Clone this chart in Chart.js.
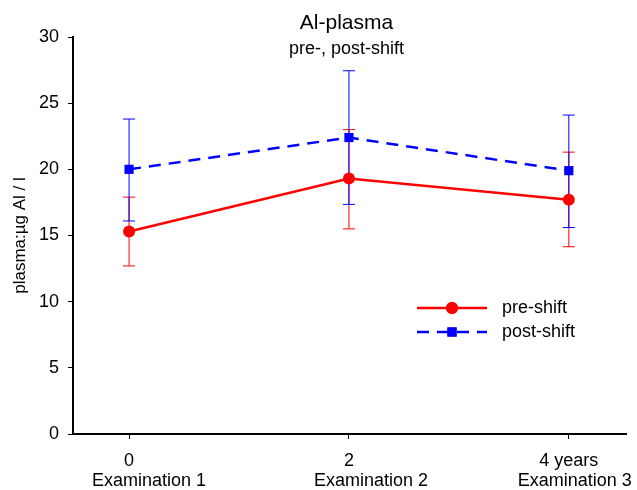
<!DOCTYPE html>
<html>
<head>
<meta charset="utf-8">
<script src="https://cdn.jsdelivr.net/npm/chart.js@4/dist/chart.umd.min.js"></script>
<style>
  html, body { margin: 0; padding: 0; background: #fff; }
  #wrap { width: 637px; height: 490px; }
</style>
</head>
<body>
<div id="wrap"><canvas id="chart" width="637" height="490"></canvas></div>
<script>
// x positions (years) and their tick labels
const years = [0, 2, 4];
const yearLabels = ['0', '2', '4 years'];
const examLabels = ['Examination 1', 'Examination 2', 'Examination 3'];

// pre-shift means and error bar ends
const preMean = [15.3, 19.3, 17.7];
const preLow = [12.7, 15.5, 14.15];
const preHigh = [17.9, 23.0, 21.3];

// post-shift means and error bar ends
const postMean = [20.0, 22.4, 19.9];
const postLow = [16.1, 17.35, 15.6];
const postHigh = [23.8, 27.45, 24.1];

const font = 'Liberation Sans, Arial, Helvetica, sans-serif';

const errorBars = {
    id: 'errorBars',
    beforeDatasetsDraw(chart) {
        const ctx = chart.ctx;
        const xs = chart.scales.x, ys = chart.scales.y;
        const sets = [
            { low: preLow, high: preHigh, color: '#ff0000' },
            { low: postLow, high: postHigh, color: '#0000ff' }
        ];
        ctx.save();
        ctx.lineWidth = 1;
        sets.forEach(s => {
            ctx.strokeStyle = s.color;
            years.forEach((yr, i) => {
                const x = xs.getPixelForValue(yr);
                const y1 = ys.getPixelForValue(s.low[i]);
                const y2 = ys.getPixelForValue(s.high[i]);
                ctx.beginPath();
                ctx.moveTo(x, y1); ctx.lineTo(x, y2);
                ctx.moveTo(x - 6, y1); ctx.lineTo(x + 6, y1);
                ctx.moveTo(x - 6, y2); ctx.lineTo(x + 6, y2);
                ctx.stroke();
            });
        });
        ctx.restore();
    }
};

// second line of the x labels, set a little right of each tick as in the source
const examLine = {
    id: 'examLine',
    afterDraw(chart) {
        const ctx = chart.ctx;
        const xs = chart.scales.x;
        const shift = [20, 22, 6];
        ctx.save();
        ctx.fillStyle = '#000';
        ctx.font = '18px ' + font;
        ctx.textAlign = 'center';
        ctx.textBaseline = 'middle';
        years.forEach((yr, i) => {
            ctx.fillText(examLabels[i], xs.getPixelForValue(yr) + shift[i], xs.top + 47);
        });
        ctx.restore();
    }
};

const titles = {
    id: 'titles',
    afterDraw(chart) {
        const ctx = chart.ctx;
        const a = chart.chartArea;
        const cx = (a.left + a.right) / 2 - 3;
        ctx.save();
        ctx.fillStyle = '#000';
        ctx.textAlign = 'center';
        ctx.textBaseline = 'middle';
        ctx.font = '21px ' + font;
        ctx.fillText('Al-plasma', cx, a.top - 14);
        ctx.font = '18px ' + font;
        ctx.fillText('pre-, post-shift', cx, a.top + 12);
        ctx.restore();
    }
};

const insideLegend = {
    id: 'insideLegend',
    afterDraw(chart) {
        const ctx = chart.ctx;
        const a = chart.chartArea;
        const x0 = a.left + 344, x1 = a.left + 414, tx = a.left + 429;
        const rows = [a.top + 271, a.top + 295];
        ctx.save();
        chart.data.datasets.forEach((ds, i) => {
            const y = rows[i];
            ctx.strokeStyle = ds.borderColor;
            ctx.lineWidth = ds.borderWidth;
            ctx.setLineDash(ds.borderDash || []);
            ctx.beginPath();
            ctx.moveTo(x0, y); ctx.lineTo(x1, y);
            ctx.stroke();
            ctx.setLineDash([]);
            ctx.fillStyle = ds.pointBackgroundColor;
            Chart.helpers.drawPoint(ctx, {
                pointStyle: ds.pointStyle, radius: ds.pointRadius, borderWidth: 0
            }, (x0 + x1) / 2, y);
            ctx.fill();
            ctx.fillStyle = '#000';
            ctx.font = '18px ' + font;
            ctx.textAlign = 'left';
            ctx.textBaseline = 'middle';
            ctx.fillText(ds.label, tx, y);
        });
        ctx.restore();
    }
};

new Chart(document.getElementById('chart'), {
    type: 'line',
    data: {
        datasets: [{
            label: 'pre-shift',
            data: years.map((x, i) => ({ x, y: preMean[i] })),
            borderColor: '#ff0000',
            backgroundColor: '#ff0000',
            pointBackgroundColor: '#ff0000',
            pointBorderWidth: 0,
            borderWidth: 2.5,
            pointStyle: 'circle',
            pointRadius: 6,
            tension: 0
        }, {
            label: 'post-shift',
            data: years.map((x, i) => ({ x, y: postMean[i] })),
            borderColor: '#0000ff',
            backgroundColor: '#0000ff',
            pointBackgroundColor: '#0000ff',
            pointBorderWidth: 0,
            borderWidth: 2.5,
            borderDash: [12, 8],
            pointStyle: 'rect',
            pointRadius: 6.5,
            tension: 0
        }]
    },
    options: {
        responsive: false,
        animation: false,
        layout: { padding: { top: 37, right: 11, left: 0, bottom: 0 } },
        plugins: {
            legend: { display: false },
            tooltip: { enabled: false }
        },
        scales: {
            x: {
                type: 'linear',
                min: -0.51,
                max: 4.52,
                afterBuildTicks(scale) {
                    scale.ticks = years.map(v => ({ value: v }));
                },
                afterFit(scale) { scale.height = 56; },
                border: { color: '#000', width: 2 },
                grid: { drawOnChartArea: false, drawTicks: true, tickLength: 5, color: '#000' },
                ticks: {
                    color: '#000',
                    font: { family: font, size: 18, lineHeight: 1.1 },
                    maxRotation: 0,
                    autoSkip: false,
                    padding: 12,
                    callback(value) {
                        const i = years.indexOf(value);
                        return i < 0 ? '' : yearLabels[i];
                    }
                }
            },
            y: {
                min: 0,
                max: 30,
                afterFit(scale) { scale.width = 73; },
                border: { color: '#000', width: 2 },
                grid: { drawOnChartArea: false, drawTicks: true, tickLength: 5, color: '#000' },
                ticks: {
                    stepSize: 5,
                    color: '#000',
                    font: { family: font, size: 18 },
                    padding: 9
                },
                title: {
                    display: true,
                    text: 'plasma:µg Al / l',
                    color: '#000',
                    font: { family: font, size: 17 },
                    padding: { top: 10, bottom: 0 }
                }
            }
        }
    },
    plugins: [errorBars, examLine, titles, insideLegend]
});
</script>
</body>
</html>
